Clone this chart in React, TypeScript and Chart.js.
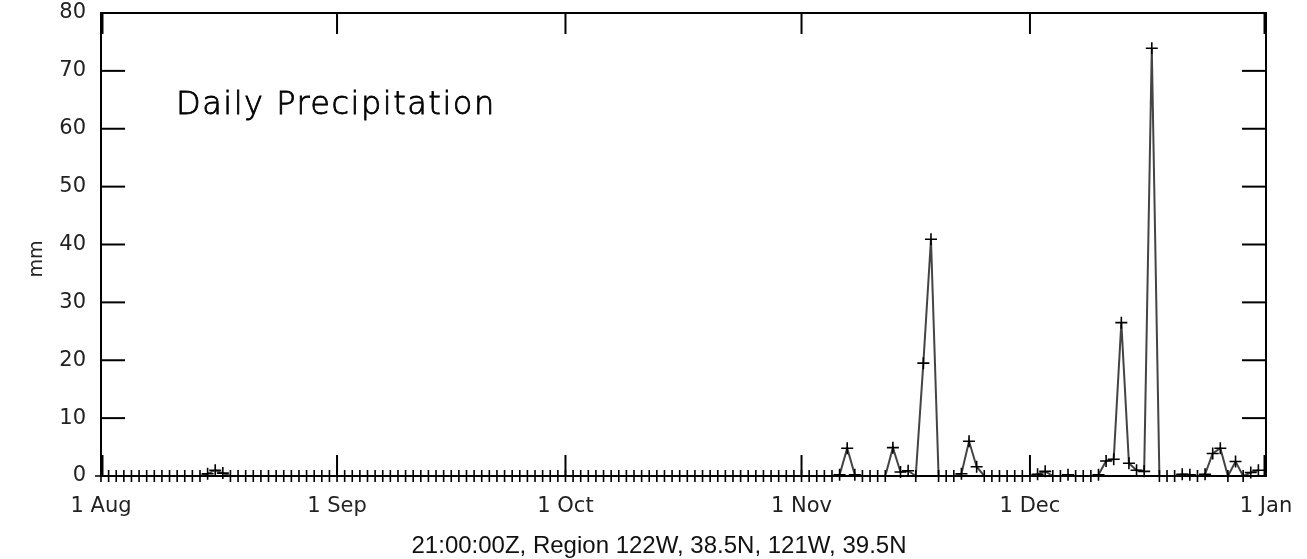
import React, { useEffect, useRef } from "react";
import { Chart, registerables } from "chart.js";

Chart.register(...registerables);

// ---- data ----
const monthLabels = ["1 Aug", "1 Sep", "1 Oct", "1 Nov", "1 Dec", "1 Jan"];
const monthLengths = [31, 30, 31, 30, 31];

const augValues = [0, 0, 0, 0, 0, 0, 0, 0, 0, 0, 0, 0, 0, 0, 0.4, 1.0, 0.5, 0, 0, 0, 0, 0, 0, 0, 0, 0, 0, 0, 0, 0, 0];
const sepValues = [0, 0, 0, 0, 0, 0, 0, 0, 0, 0, 0, 0, 0, 0, 0, 0, 0, 0, 0, 0, 0, 0, 0, 0, 0, 0, 0, 0, 0, 0];
const octValues = [0, 0, 0, 0, 0, 0, 0, 0, 0, 0, 0, 0, 0, 0, 0, 0, 0, 0, 0, 0, 0, 0, 0, 0, 0, 0, 0, 0, 0, 0, 0];
const novValues = [0, 0, 0, 0, 0, 0.2, 4.8, 0.2, 0, 0, 0, 0, 4.9, 0.7, 0.9, 0, 19.5, 40.9, 0, 0, 0, 0.4, 6.0, 1.6, 0, 0, 0, 0, 0, 0];
const decValues = [0, 0.3, 0.8, 0, 0, 0.2, 0, 0, 0, 0.2, 2.6, 2.9, 26.5, 2.2, 1.0, 0.8, 73.9, 0, 0, 0, 0.3, 0.2, 0, 0.3, 3.9, 4.8, 0, 2.5, 0, 0.6, 1.0];

const yMin = 0;
const yMax = 80;
const yStep = 10;

const chartTitle = "Daily Precipitation";
const yAxisLabel = "mm";
const caption = "21:00:00Z, Region 122W, 38.5N, 121W, 39.5N";

// ---- derived ----
const allValues = [...augValues, ...sepValues, ...octValues, ...novValues, ...decValues];
const points = allValues.map((v, i) => ({ x: i, y: v }));
const monthTickValues = monthLabels.map((_, i) =>
  monthLengths.slice(0, i).reduce((a, b) => a + b, 0)
);

const framePlugin = {
  id: "frameAndText",
  beforeDatasetsDraw(chart: any) {
    const { ctx, chartArea, scales } = chart;
    const { left, top, right, bottom } = chartArea;
    const x = scales.x;
    const y = scales.y;
    ctx.save();
    ctx.strokeStyle = "#000";
    ctx.lineWidth = 2;
    ctx.strokeRect(left, top, right - left, bottom - top);
    const seg = (x1: number, y1: number, x2: number, y2: number) => {
      ctx.beginPath();
      ctx.moveTo(x1, y1);
      ctx.lineTo(x2, y2);
      ctx.stroke();
    };
    for (const t of y.ticks) {
      const py = y.getPixelForValue(t.value);
      seg(left, py, left + 24, py);
      seg(right - 24, py, right, py);
    }
    for (const t of x.ticks) {
      const px = x.getPixelForValue(t.value);
      const off = t.value === x.min ? 1.5 : t.value === x.max ? -1.5 : 0;
      seg(px + off, bottom, px + off, bottom - 21);
      seg(px + off, top, px + off, top + 21);
    }
    ctx.restore();
  },
  afterDraw(chart: any) {
    const { ctx } = chart;
    ctx.save();
    ctx.fillStyle = "#000";
    ctx.strokeStyle = "#000";
    ctx.lineWidth = 0.8;
    ctx.textBaseline = "alphabetic";
    ctx.textAlign = "left";
    ctx.font = '200 32px "DejaVu Sans"';
    (ctx as any).letterSpacing = "1.5px";
    ctx.fillText(chartTitle, 176, 114);
    ctx.strokeText(chartTitle, 176, 114);
    (ctx as any).letterSpacing = "0px";

    ctx.fillStyle = "#222";
    ctx.font = '19px "DejaVu Sans"';
    ctx.textAlign = "center";
    ctx.textBaseline = "middle";
    ctx.translate(37, 259);
    ctx.rotate(-Math.PI / 2);
    ctx.fillText(yAxisLabel, 0, 0);
    ctx.restore();

    ctx.save();
    ctx.fillStyle = "#111";
    ctx.font = '24px "Liberation Sans"';
    ctx.textAlign = "center";
    ctx.textBaseline = "alphabetic";
    ctx.fillText(caption, 659, 553);
    ctx.restore();
  },
};

export default function App() {
  const canvasRef = useRef<HTMLCanvasElement | null>(null);

  useEffect(() => {
    if (!canvasRef.current) return;
    const chart = new Chart(canvasRef.current, {
      type: "line",
      data: {
        datasets: [
          {
            data: points,
            borderColor: "#444",
            borderWidth: 2,
            pointStyle: "cross",
            pointRadius: 6,
            pointBorderColor: "#000",
            pointBorderWidth: 1.6,
            tension: 0,
            fill: false,
            clip: false as any,
          },
        ],
      },
      options: {
        responsive: false,
        animation: false,
        layout: { padding: { left: 0, right: 41, top: 13, bottom: 0 } },
        plugins: {
          legend: { display: false },
          tooltip: { enabled: false },
        },
        scales: {
          x: {
            type: "linear",
            min: monthTickValues[0],
            max: monthTickValues[monthTickValues.length - 1],
            grid: { display: false },
            border: { display: false },
            afterBuildTicks: (scale: any) => {
              scale.ticks = monthTickValues.map((v) => ({ value: v }));
            },
            afterFit: (scale: any) => {
              scale.height = 83;
              scale.paddingLeft = 0;
              scale.paddingRight = 0;
            },
            ticks: {
              autoSkip: false,
              maxRotation: 0,
              padding: 10,
              color: "#222",
              font: { family: "DejaVu Sans", size: 21 },
              callback: (value: any) => monthLabels[monthTickValues.indexOf(Number(value))],
            },
          },
          y: {
            min: yMin,
            max: yMax,
            grid: { display: false },
            border: { display: false },
            afterFit: (scale: any) => {
              scale.width = 101;
              scale.paddingTop = 0;
              scale.paddingBottom = 0;
            },
            ticks: {
              stepSize: yStep,
              padding: 7,
              color: "#222",
              font: { family: "DejaVu Sans", size: 21 },
            },
          },
        },
      },
      plugins: [framePlugin],
    });
    return () => chart.destroy();
  }, []);

  return (
    <div style={{ position: "fixed", left: 0, top: 0, width: 1307, height: 559, background: "#fff" }}>
      <canvas ref={canvasRef} width={1307} height={559} style={{ display: "block" }} />
    </div>
  );
}
